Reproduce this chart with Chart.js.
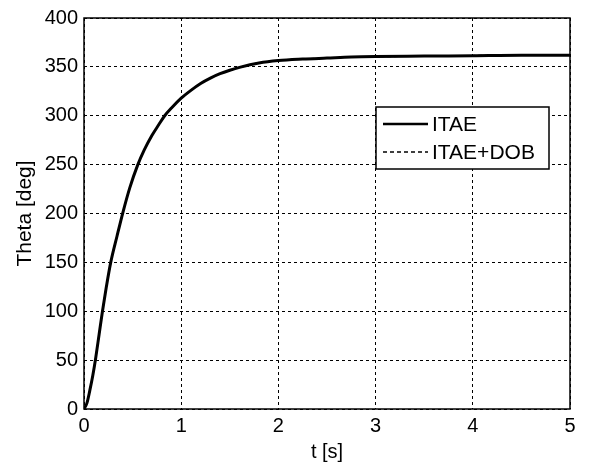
<!DOCTYPE html>
<html>
<head>
<meta charset="utf-8">
<script src="https://cdn.jsdelivr.net/npm/chart.js@4/dist/chart.umd.min.js"></script>
<style>
html,body{margin:0;padding:0;background:#fff;}
#wrap{width:592px;height:467px;position:relative;}
</style>
</head>
<body>
<div id="wrap"><canvas id="c" width="592" height="467"></canvas></div>
<script>
const timeS = [0, 0.03, 0.06, 0.09, 0.12, 0.155, 0.19, 0.23, 0.275, 0.34, 0.4, 0.47, 0.55, 0.62, 0.7, 0.77, 0.83, 0.9, 1.0, 1.1, 1.2, 1.3, 1.4, 1.5, 1.6, 1.8, 2.0, 2.25, 2.5, 2.75, 3.0, 3.5, 4.0, 4.5, 5.0];
const itae =  [0, 6, 19, 34, 52, 76, 100, 125, 150, 177, 201, 226, 249, 265, 280, 291, 300, 308, 318, 326, 333, 338.5, 343, 346.5, 349.5, 354, 356.5, 358, 359, 360, 360.5, 361, 361.5, 362, 362];
const itaeDob = [0, 6, 19, 34, 52, 76, 100, 125, 150, 177, 201, 226, 249, 265, 280, 291, 300, 308, 318, 326, 333, 338.5, 343, 346.5, 349.5, 354, 356.5, 358, 359, 360, 360.5, 361, 361.5, 362, 362];
const xTicks = [0, 1, 2, 3, 4, 5];
const yTicks = [0, 50, 100, 150, 200, 250, 300, 350, 400];
const seriesNames = ['ITAE', 'ITAE+DOB'];

const FONT = 'Liberation Sans, Arial, sans-serif';

const legendPlugin = {
  id: 'boxLegend',
  afterDraw(chart) {
    const ctx = chart.ctx;
    const x0 = 376, y0 = 107, w = 173, h = 62;
    ctx.save();
    ctx.fillStyle = '#fff';
    ctx.fillRect(x0, y0, w, h);
    ctx.strokeStyle = '#000';
    ctx.lineWidth = 1.5;
    ctx.strokeRect(x0, y0, w, h);
    const rows = [y0 + 17, y0 + 45];
    chart.data.datasets.slice().reverse().forEach((ds, i) => {
      const y = rows[i];
      ctx.beginPath();
      ctx.setLineDash(ds.borderDash || []);
      ctx.lineWidth = ds.legendWidth;
      ctx.moveTo(x0 + 7, y);
      ctx.lineTo(x0 + 52, y);
      ctx.stroke();
      ctx.setLineDash([]);
      ctx.fillStyle = '#000';
      ctx.font = '21px ' + FONT;
      ctx.textBaseline = 'middle';
      ctx.textAlign = 'left';
      ctx.fillText(ds.label, x0 + 56, y + 1);
    });
    ctx.restore();
  }
};

const frame = {
  id: 'frame',
  afterDatasetsDraw(chart) {
    const a = chart.chartArea, ctx = chart.ctx;
    ctx.save();
    ctx.strokeStyle = '#000';
    ctx.lineWidth = 1.5;
    ctx.strokeRect(a.left, a.top, a.right - a.left, a.bottom - a.top);
    ctx.restore();
  }
};

new Chart(document.getElementById('c'), {
  type: 'line',
  data: {
    datasets: [
      { label: seriesNames[1], data: timeS.map((t, i) => ({x: t, y: itaeDob[i]})), borderColor: '#000', borderWidth: 1.5, borderDash: [4, 3], legendWidth: 1.5, pointRadius: 0, cubicInterpolationMode: 'monotone', fill: false, order: 2 },
      { label: seriesNames[0], data: timeS.map((t, i) => ({x: t, y: itae[i]})), borderColor: '#000', borderWidth: 3, legendWidth: 2.5, pointRadius: 0, cubicInterpolationMode: 'monotone', fill: false, order: 1 }
    ]
  },
  options: {
    responsive: false,
    animation: false,
    layout: { padding: { top: 17, right: 22, left: 13, bottom: 3 } },
    plugins: { legend: { display: false }, tooltip: { enabled: false } },
    scales: {
      x: {
        type: 'linear', min: 0, max: 5,
        afterBuildTicks(s) { s.ticks = xTicks.map(v => ({value: v})); },
        afterFit(s) { s.height = 55; },
        grid: { color: '#000', lineWidth: 1, drawTicks: false },
        border: { display: false, dash: [3, 3] },
        ticks: { color: '#000', font: { family: FONT, size: 20 }, padding: 5, maxRotation: 0 },
        title: { display: true, text: 't [s]', color: '#000', font: { family: FONT, size: 20 }, padding: { top: 0, bottom: 0 } }
      },
      y: {
        type: 'linear', min: 0, max: 400,
        afterBuildTicks(s) { s.ticks = yTicks.map(v => ({value: v})); },
        afterFit(s) { s.width = 71; },
        grid: { color: '#000', lineWidth: 1, drawTicks: false },
        border: { display: false, dash: [3, 3] },
        ticks: { color: '#000', font: { family: FONT, size: 20 }, padding: 6 },
        title: { display: true, text: 'Theta [deg]', color: '#000', font: { family: FONT, size: 21 }, padding: { top: 0, bottom: 4 } }
      }
    }
  },
  plugins: [frame, legendPlugin]
});
</script>
</body>
</html>
